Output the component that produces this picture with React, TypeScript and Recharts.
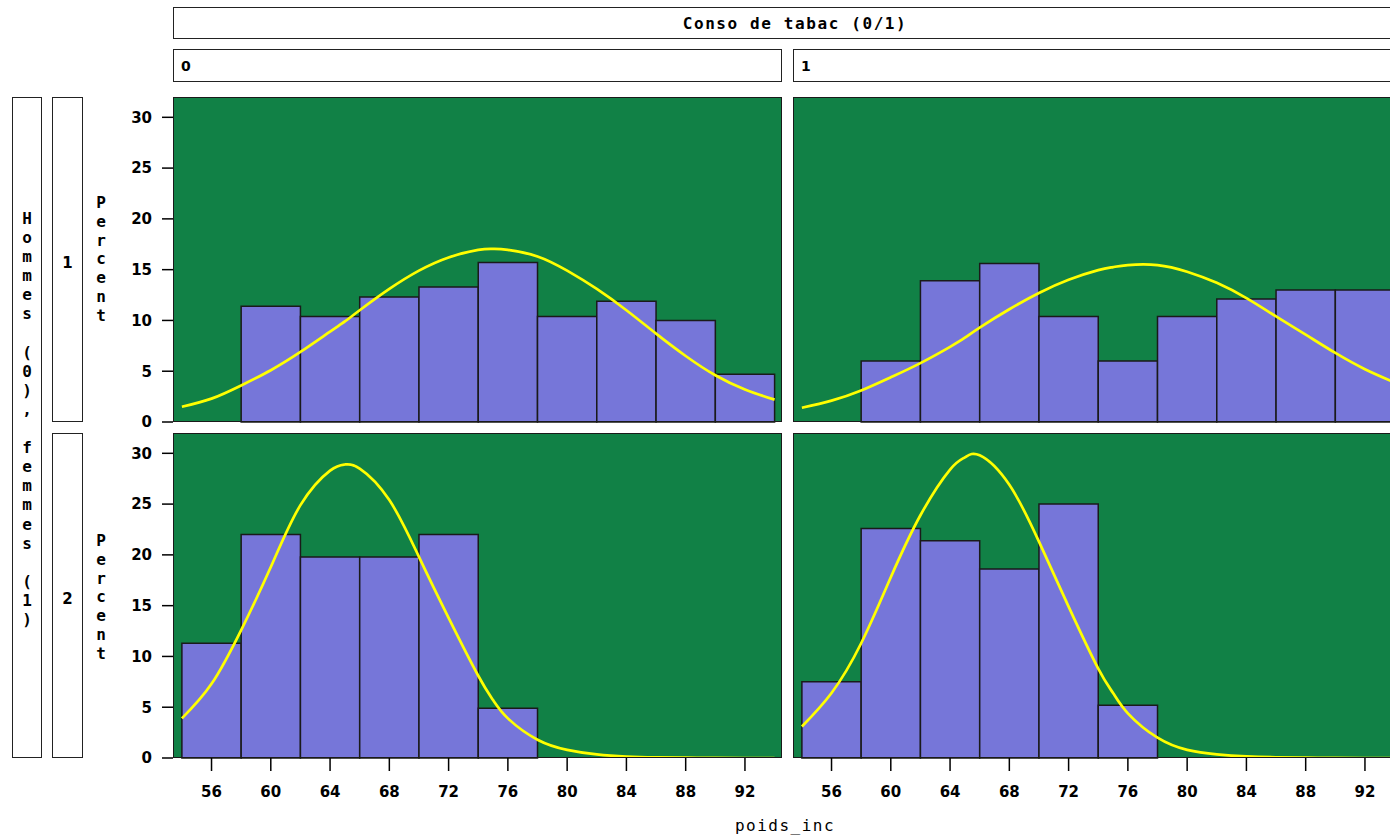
import React from 'react';
import { ComposedChart, Line, XAxis, YAxis, ReferenceArea } from 'recharts';

// histogram bins (poids_inc), 4 kg wide
const binStart = [54, 58, 62, 66, 70, 74, 78, 82, 86, 90];
const binEnd = [58, 62, 66, 70, 74, 78, 82, 86, 90, 94];
const xTicks = [56, 60, 64, 68, 72, 76, 80, 84, 88, 92];
const yTicks = [0, 5, 10, 15, 20, 25, 30];

// percent per bin, row (sexe) x column (tabac)
const barsRow1Tab0 = [0, 11.4, 10.4, 12.3, 13.3, 15.7, 10.4, 11.9, 10.0, 4.7];
const barsRow1Tab1 = [0, 6.0, 13.9, 15.6, 10.4, 6.0, 10.4, 12.1, 13.0, 13.0];
const barsRow2Tab0 = [11.3, 22.0, 19.8, 19.8, 22.0, 4.9, 0, 0, 0, 0];
const barsRow2Tab1 = [7.5, 22.6, 21.4, 18.6, 25.0, 5.2, 0, 0, 0, 0];

// fitted normal curves
const curveX = [54, 56, 58, 60, 62, 64, 65, 66, 68, 70, 72, 74, 75, 76, 78, 80, 82, 84, 86, 88, 90, 92, 94];
const curveRow1Tab0 = [1.5, 2.3, 3.6, 5.1, 6.9, 8.9, 9.9, 11.0, 13.1, 14.9, 16.2, 16.95, 17.05, 16.95, 16.3, 14.9, 13.1, 11.0, 8.7, 6.5, 4.6, 3.2, 2.2];
const curveRow1Tab1 = [1.4, 2.1, 3.1, 4.4, 5.8, 7.4, 8.3, 9.3, 11.1, 12.7, 14.0, 14.95, 15.25, 15.45, 15.45, 14.8, 13.7, 12.2, 10.4, 8.6, 6.8, 5.2, 3.9];
const curveRow2Tab0 = [3.9, 7.3, 12.6, 18.8, 24.9, 28.3, 28.9, 28.5, 25.4, 19.8, 13.8, 8.1, 5.7, 3.9, 1.8, 0.8, 0.35, 0.15, 0.07, 0.03, 0.01, 0, 0];
const curveRow2Tab1 = [3.1, 6.4, 11.3, 17.8, 23.9, 28.4, 29.6, 29.8, 26.9, 21.3, 14.9, 8.8, 6.4, 4.4, 2.0, 0.8, 0.36, 0.16, 0.07, 0.03, 0.01, 0, 0];

const GREEN = '#118146';
const PURPLE = '#7676d9';
const YELLOW = '#ffff00';
const EDGE = '#1a1a1a';
const PW = 609;
const PH = 325;

const boldSans = { fontFamily: 'DejaVu Sans', fontWeight: 'bold' as const };
const mono = { fontFamily: 'DejaVu Sans Mono' };

const boxStyle: React.CSSProperties = {
  position: 'absolute',
  border: '1.5px solid #222',
  boxSizing: 'border-box',
  background: '#fff',
};

interface PanelProps {
  bars: number[];
  curve: number[];
  left: number;
  top: number;
  showY: boolean;
  showX: boolean;
}

const Panel: React.FC<PanelProps> = ({ bars, curve, left, top, showY, showX }) => {
  const data = curveX.map((x, i) => ({ x, curve: curve[i] }));
  const yW = showY ? 70 : 0;
  const xH = showX ? 52 : 0;
  const pad = 10;
  const tick = { fill: '#000', fontSize: 15, ...boldSans };

  return (
    <>
      <div style={{ position: 'absolute', left, top, width: PW, height: PH, background: GREEN }} />
      <div style={{ position: 'absolute', left: left - yW, top: top - pad }}>
        <ComposedChart
          width={PW + yW}
          height={PH + pad + (showX ? xH : pad)}
          data={data}
          margin={{ top: pad, right: 0, bottom: showX ? 0 : pad, left: 0 }}
        >
          <XAxis
            dataKey="x"
            type="number"
            domain={[53.4, 94.5]}
            allowDataOverflow
            ticks={xTicks}
            interval={0}
            hide={!showX}
            height={xH}
            tickSize={13}
            tickMargin={15}
            axisLine={false}
            tickLine={{ stroke: '#000', strokeWidth: 1.5 }}
            tick={tick}
          />
          <YAxis
            type="number"
            domain={[0, 32]}
            allowDataOverflow
            ticks={yTicks}
            interval={0}
            hide={!showY}
            width={yW}
            tickSize={11}
            tickMargin={10}
            axisLine={false}
            tickLine={{ stroke: '#000', strokeWidth: 1.5 }}
            tick={tick}
          />
          {binStart.map((s, i) =>
            bars[i] > 0 ? (
              <ReferenceArea
                key={s}
                x1={s}
                x2={binEnd[i]}
                y1={0}
                y2={bars[i]}
                fill={PURPLE}
                fillOpacity={1}
                stroke={EDGE}
                strokeWidth={1.5}
                ifOverflow="visible"
              />
            ) : null
          )}
          <Line
            type="natural"
            dataKey="curve"
            stroke={YELLOW}
            strokeWidth={2.7}
            dot={false}
            isAnimationActive={false}
          />
        </ComposedChart>
      </div>
      <div style={{ position: 'absolute', left, top, width: PW, height: PH, border: '1.5px solid ' + EDGE, boxSizing: 'border-box', pointerEvents: 'none' }} />
    </>
  );
};

const Stacked: React.FC<{ text: string; left: number; top: number; width: number; step: number }> = ({ text, left, top, width, step }) => (
  <div style={{ position: 'absolute', left, top, width, textAlign: 'center', fontSize: 16, fontWeight: 'bold', ...mono }}>
    {text.split('').map((c, i) => (
      <div key={i} style={{ height: step, lineHeight: step + 'px' }}>{c === ' ' ? '\u00a0' : c}</div>
    ))}
  </div>
);

const App: React.FC = () => {
  return (
    <div style={{ position: 'fixed', left: 0, top: 0, width: 1390, height: 839, overflow: 'hidden', background: '#fff' }}>
      {/* column header */}
      <div style={{ ...boxStyle, left: 173, top: 7, width: 1229, height: 32, display: 'flex', alignItems: 'center', justifyContent: 'center', paddingLeft: 15 }}>
        <span style={{ ...mono, fontWeight: 'bold', fontSize: 16, letterSpacing: 1.6 }}>Conso de tabac (0/1)</span>
      </div>
      <div style={{ ...boxStyle, left: 173, top: 49, width: PW, height: 33, display: 'flex', alignItems: 'center', paddingLeft: 7 }}>
        <span style={{ ...boldSans, fontSize: 14 }}>0</span>
      </div>
      <div style={{ ...boxStyle, left: 793, top: 49, width: PW, height: 33, display: 'flex', alignItems: 'center', paddingLeft: 7 }}>
        <span style={{ ...boldSans, fontSize: 14 }}>1</span>
      </div>

      {/* row header */}
      <div style={{ ...boxStyle, left: 12, top: 97, width: 30, height: 661 }} />
      <Stacked text="Hommes (0), femmes (1)" left={12} top={209} width={30} step={19.1} />
      <div style={{ ...boxStyle, left: 52, top: 97, width: 31, height: PH, display: 'flex', alignItems: 'center', justifyContent: 'center', paddingTop: 7 }}>
        <span style={{ ...boldSans, fontSize: 15 }}>1</span>
      </div>
      <div style={{ ...boxStyle, left: 52, top: 433, width: 31, height: PH, display: 'flex', alignItems: 'center', justifyContent: 'center', paddingTop: 7 }}>
        <span style={{ ...boldSans, fontSize: 15 }}>2</span>
      </div>
      <Stacked text="Percent" left={88} top={194} width={26} step={18.8} />
      <Stacked text="Percent" left={88} top={532} width={26} step={18.8} />

      <Panel bars={barsRow1Tab0} curve={curveRow1Tab0} left={173} top={97} showY showX={false} />
      <Panel bars={barsRow1Tab1} curve={curveRow1Tab1} left={793} top={97} showY={false} showX={false} />
      <Panel bars={barsRow2Tab0} curve={curveRow2Tab0} left={173} top={433} showY showX />
      <Panel bars={barsRow2Tab1} curve={curveRow2Tab1} left={793} top={433} showY={false} showX />

      <div style={{ position: 'absolute', left: 685, top: 816, width: 200, textAlign: 'center', ...mono, fontSize: 16, letterSpacing: 1.5 }}>
        poids_inc
      </div>
    </div>
  );
};

export default App;
